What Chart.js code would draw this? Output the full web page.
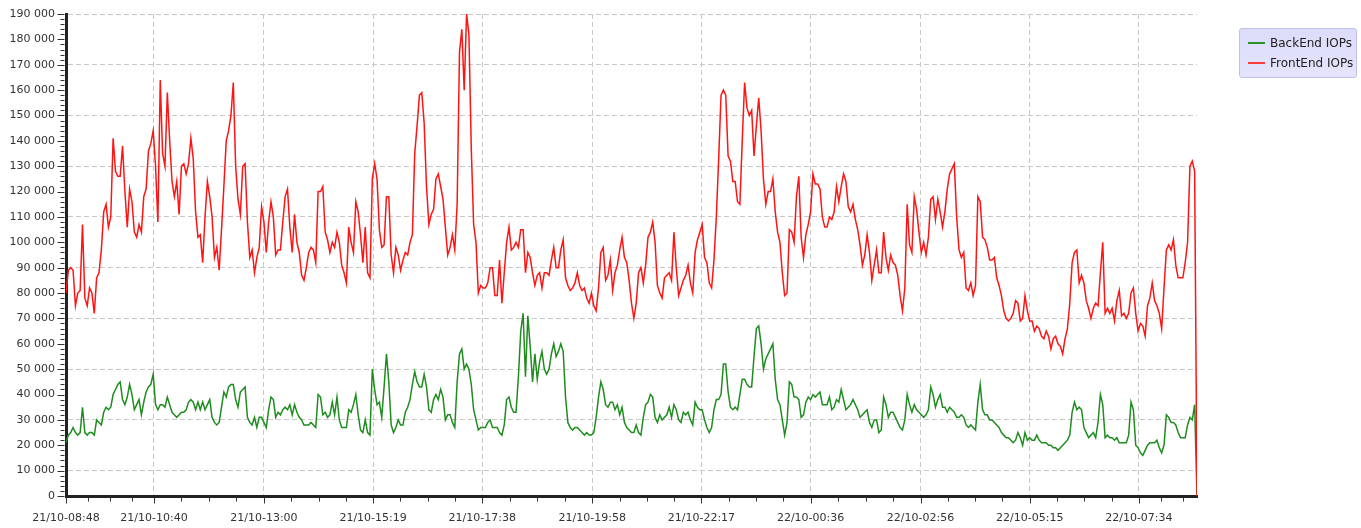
<!DOCTYPE html>
<html>
<head>
<meta charset="utf-8">
<script src="https://cdn.jsdelivr.net/npm/chart.js@4.4.1/dist/chart.umd.min.js"></script>
<style>
html,body{margin:0;padding:0;background:#fff;}
#wrap{position:relative;width:1361px;height:528px;overflow:hidden;}
#legend{position:absolute;left:1239px;top:28px;width:116px;height:48px;border:1px solid #bfbff0;border-radius:3px;background:linear-gradient(#dcdcfa,#e4e4fc);font:12px "DejaVu Sans",sans-serif;color:#222;}
.item{position:absolute;left:8px;height:14px;display:flex;align-items:center;white-space:nowrap;}
.sw{display:inline-block;width:17px;height:2px;margin-right:5px;}
</style>
</head>
<body>
<div id="wrap">
<canvas id="c" width="1361" height="528"></canvas>
<div id="legend">
  <div class="item" style="top:7px"><span class="sw" style="background:#2a962a"></span>BackEnd IOPs</div>
  <div class="item" style="top:27px"><span class="sw" style="background:#ff3c3c"></span>FrontEnd IOPs</div>
</div>
</div>
<script>
const tickLabels = ['21/10-08:48','21/10-10:40','21/10-13:00','21/10-15:19','21/10-17:38','21/10-19:58','21/10-22:17','22/10-00:36','22/10-02:56','22/10-05:15','22/10-07:34'];
const sampleMinutes = 3;

const backEndIOPs = [
21000,24000,25000,27000,25000,24000,25000,35000,25000,24000,
25000,25000,24000,30000,29000,28000,33000,35000,34000,35000,
40000,42000,44000,45000,38000,36000,39000,44000,40000,34000,
36000,38000,32000,37000,41000,43000,44000,48000,36000,34000,
36000,36000,35000,39000,36000,33000,32000,31000,32000,33000,
33000,34000,37000,38000,37000,34000,37000,34000,37000,34000,
36000,38000,31000,29000,28000,29000,35000,41000,39000,43000,
44000,44000,38000,35000,41000,42000,43000,31000,29000,28000,
31000,27000,31000,31000,29000,27000,34000,39000,38000,31000,
33000,32000,34000,35000,34000,36000,32000,36000,33000,31000,
30000,28000,28000,28000,29000,28000,27000,40000,39000,32000,
33000,31000,32000,37000,32000,39000,30000,27000,27000,27000,
34000,33000,36000,40000,32000,26000,25000,30000,25000,24000,
50000,42000,36000,37000,31000,43000,56000,45000,28000,25000,
27000,30000,28000,28000,33000,35000,38000,44000,49000,45000,
43000,43000,48000,43000,34000,33000,38000,40000,38000,42000,
39000,30000,32000,32000,29000,27000,45000,56000,58000,50000,
52000,50000,44000,34000,30000,26000,27000,27000,27000,29000,
30000,27000,27000,27000,25000,24000,28000,38000,39000,35000,
33000,33000,47000,65000,72000,47000,71000,59000,45000,56000,
46000,53000,57000,50000,48000,50000,56000,60000,55000,57000,
60000,57000,39000,29000,27000,26000,27000,27000,26000,25000,
24000,25000,24000,24000,25000,31000,39000,45000,42000,36000,
35000,37000,37000,34000,36000,32000,35000,29000,27000,26000,
25000,25000,28000,25000,24000,31000,36000,37000,40000,39000,
31000,29000,32000,30000,31000,32000,35000,31000,36000,34000,
30000,29000,33000,32000,33000,30000,28000,37000,35000,34000,
34000,30000,27000,25000,27000,34000,38000,38000,40000,52000,
52000,41000,35000,34000,35000,34000,40000,46000,46000,44000,
43000,43000,55000,66000,67000,60000,50000,54000,56000,58000,
60000,46000,38000,36000,30000,24000,29000,45000,44000,39000,
39000,38000,31000,32000,37000,39000,38000,40000,39000,40000,
41000,36000,36000,36000,39000,34000,35000,38000,37000,42000,
38000,34000,35000,36000,38000,36000,34000,31000,32000,33000,
34000,29000,27000,30000,30000,25000,26000,39000,36000,31000,
33000,33000,31000,29000,27000,26000,30000,40000,36000,33000,
36000,34000,33000,32000,31000,32000,34000,43000,40000,35000,
38000,40000,35000,35000,33000,35000,34000,33000,31000,31000,
32000,31000,28000,27000,28000,27000,26000,37000,44000,34000,
32000,32000,30000,30000,29000,28000,27000,25000,24000,23000,
23000,22000,21000,22000,25000,23000,20000,25000,22000,23000,
22000,22000,24000,22000,21000,21000,21000,20000,20000,19000,
19000,18000,19000,20000,21000,22000,24000,33000,37000,34000,
35000,34000,27000,25000,23000,24000,25000,23000,29000,40000,
36000,23000,24000,23000,23000,22000,23000,21000,21000,21000,
21000,24000,37000,34000,20000,19000,17000,16000,18000,20000,
21000,21000,21000,22000,19000,17000,20000,32000,31000,29000,
29000,28000,25000,23000,23000,23000,28000,31000,30000,36000,
0
];

const frontEndIOPs = [
80000,89000,90000,89000,75000,80000,81000,107000,78000,75000,
82000,80000,72000,86000,88000,97000,112000,115000,106000,110000,
141000,128000,126000,126000,138000,120000,106000,121000,116000,104000,
102000,107000,104000,118000,121000,136000,139000,144000,130000,108000,
164000,135000,130000,159000,140000,124000,118000,124000,111000,130000,
131000,127000,131000,141000,133000,112000,102000,103000,92000,110000,
124000,118000,110000,94000,98000,89000,105000,122000,140000,144000,
150000,163000,130000,117000,111000,130000,131000,108000,94000,97000,
88000,94000,98000,114000,108000,96000,108000,116000,110000,95000,
97000,97000,108000,118000,121000,106000,96000,111000,100000,96000,
87000,85000,90000,96000,98000,97000,92000,120000,120000,122000,
104000,101000,96000,100000,98000,104000,100000,91000,88000,84000,
106000,100000,96000,116000,112000,103000,92000,106000,88000,86000,
125000,131000,125000,105000,98000,99000,118000,118000,95000,88000,
98000,95000,89000,93000,96000,95000,100000,103000,135000,146000,
158000,159000,147000,122000,107000,111000,113000,125000,127000,122000,
117000,106000,95000,98000,103000,97000,115000,175000,184000,160000,
190000,182000,137000,107000,100000,80000,83000,82000,82000,84000,
90000,90000,79000,79000,93000,76000,88000,100000,106000,97000,
98000,100000,98000,105000,105000,88000,96000,94000,88000,83000,
87000,88000,82000,88000,88000,87000,93000,98000,90000,90000,
97000,101000,86000,83000,81000,82000,84000,88000,83000,81000,
82000,78000,76000,80000,75000,73000,82000,96000,98000,85000,
87000,93000,81000,88000,91000,97000,102000,94000,92000,85000,
76000,70000,76000,88000,90000,84000,91000,102000,104000,108000,
100000,83000,80000,78000,86000,87000,88000,85000,104000,90000,
79000,82000,85000,87000,91000,84000,80000,96000,101000,104000,
107000,94000,92000,84000,82000,93000,110000,133000,158000,160000,
158000,134000,132000,124000,124000,116000,115000,140000,163000,153000,
150000,152000,134000,146000,157000,144000,125000,115000,120000,120000,
125000,112000,104000,100000,88000,79000,80000,105000,104000,100000,
118000,126000,102000,94000,103000,107000,112000,127000,123000,123000,
121000,110000,106000,106000,110000,109000,112000,122000,116000,122000,
127000,124000,114000,112000,115000,109000,105000,99000,91000,95000,
103000,96000,85000,91000,97000,88000,88000,104000,94000,89000,
95000,92000,91000,87000,79000,73000,82000,115000,99000,96000,
118000,113000,104000,96000,100000,95000,102000,117000,118000,109000,
117000,112000,106000,112000,121000,127000,129000,131000,110000,97000,
94000,96000,82000,81000,84000,79000,83000,118000,116000,102000,
101000,98000,93000,93000,94000,86000,83000,79000,73000,70000,
69000,70000,72000,77000,76000,69000,70000,79000,73000,69000,
69000,65000,67000,66000,63000,62000,65000,63000,58000,62000,
63000,60000,59000,56000,62000,66000,76000,92000,96000,97000,
84000,87000,84000,77000,74000,70000,74000,76000,75000,88000,
100000,72000,74000,72000,74000,69000,77000,81000,71000,72000,
70000,72000,80000,82000,72000,65000,68000,67000,63000,75000,
78000,84000,77000,75000,72000,66000,82000,97000,99000,97000,
101000,91000,86000,86000,86000,92000,100000,130000,132000,128000,
0
];

function minutesOf(label) {
  const parts = label.split('-');
  const day = parseInt(parts[0].split('/')[0], 10);
  const hm = parts[1].split(':').map(Number);
  return day * 1440 + hm[0] * 60 + hm[1];
}
const t0 = minutesOf(tickLabels[0]);
const tickMinutes = tickLabels.map(l => minutesOf(l) - t0);
const toPoints = arr => arr.map((v, i) => ({x: i * sampleMinutes, y: v}));
const fmt = v => String(v).replace(/\B(?=(\d{3})+(?!\d))/g, ' ');

const tickMarks = {
  id: 'tickMarks',
  afterDraw(chart) {
    const {ctx, chartArea: a, scales: {x, y}} = chart;
    ctx.save();
    ctx.strokeStyle = '#333';
    ctx.lineWidth = 1;
    ctx.beginPath();
    y.ticks.forEach(t => {
      const py = Math.round(y.getPixelForValue(t.value)) + 0.5;
      const len = t.value % 10000 === 0 ? 7 : 4;
      ctx.moveTo(a.left - 1.5 - len, py);
      ctx.lineTo(a.left - 1.5, py);
    });
    const marks = [];
    tickMinutes.forEach((m, i) => {
      marks.push([m, 6]);
      const n = tickMinutes[i + 1];
      const step = n !== undefined ? (n - m) / 4 : (tickMinutes[1] - tickMinutes[0]) / 4;
      for (let j = 1; j < 4; j++) {
        const v = m + step * j;
        if (v <= x.max) marks.push([v, 4]);
      }
    });
    marks.forEach(([v, len]) => {
      const px = Math.round(x.getPixelForValue(v)) + 0.5;
      ctx.moveTo(px, a.bottom + 1.5);
      ctx.lineTo(px, a.bottom + 1.5 + len);
    });
    ctx.stroke();
    ctx.restore();
  }
};

new Chart(document.getElementById('c'), {
  type: 'line',
  data: {
    datasets: [
      {label: 'BackEnd IOPs', data: toPoints(backEndIOPs), borderColor: '#1f8c1f', borderWidth: 1.5, pointRadius: 0, tension: 0, order: 2},
      {label: 'FrontEnd IOPs', data: toPoints(frontEndIOPs), borderColor: '#ff1414', borderWidth: 1.5, pointRadius: 0, tension: 0, order: 1}
    ]
  },
  options: {
    responsive: false,
    animation: false,
    devicePixelRatio: 1,
    layout: {padding: {left: 0, right: 164, top: 14, bottom: 0}},
    plugins: {legend: {display: false}, tooltip: {enabled: false}},
    scales: {
      x: {
        type: 'linear',
        min: 0,
        max: (frontEndIOPs.length - 1) * sampleMinutes,
        afterBuildTicks: s => { s.ticks = tickMinutes.map(v => ({value: v})); },
        afterFit: s => { s.height = 32; },
        grid: {color: '#c8c8c8', lineWidth: 1, drawTicks: true, tickLength: 8, tickColor: 'rgba(0,0,0,0)'},
        border: {display: true, color: '#222', width: 3, dash: [5, 3]},
        ticks: {autoSkip: false, maxRotation: 0, padding: 8, color: '#333', font: {family: 'DejaVu Sans', size: 11},
                callback: (v, i) => tickLabels[i]}
      },
      y: {
        min: 0,
        max: 190000,
        afterFit: s => { s.width = 66; },
        grid: {color: c => (c.tick && c.tick.value % 20000 === 10000) ? '#c8c8c8' : 'rgba(0,0,0,0)', lineWidth: 1, tickLength: 8, tickColor: 'rgba(0,0,0,0)'},
        border: {display: true, color: '#222', width: 3, dash: [5, 3]},
        ticks: {stepSize: 2000, maxTicksLimit: 200, autoSkip: false, padding: 3, color: '#333', font: {family: 'DejaVu Sans', size: 11},
                callback: v => v % 10000 === 0 ? fmt(v) : ''}
      }
    }
  },
  plugins: [tickMarks]
});
</script>
</body>
</html>
